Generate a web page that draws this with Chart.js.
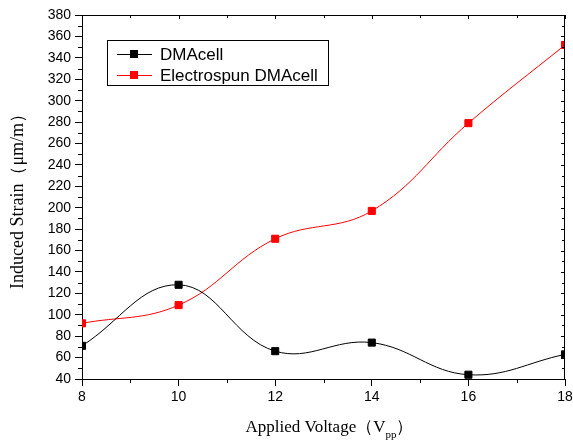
<!DOCTYPE html>
<html>
<head>
<meta charset="utf-8">
<script src="https://cdn.jsdelivr.net/npm/chart.js@4.4.0/dist/chart.umd.min.js"></script>
<style>
  html, body { margin: 0; padding: 0; background: #fff; }
  #wrap { width: 573px; height: 443px; }
</style>
</head>
<body>
<div id="wrap"><canvas id="strainchart" width="573" height="443"></canvas></div>
<script>
// data
const voltages = [8, 10, 12, 14, 16, 18];
const dmacell = [71, 128, 66, 74, 44, 63];
const electrospun = [92, 109, 171, 197, 279, 352];
const seriesNames = ["DMAcell", "Electrospun DMAcell"];

const sansFont = "'Liberation Sans', Arial, sans-serif";
const serifFont = "'Liberation Serif', 'Times New Roman', serif";

function toPoints(xs, ys) {
  return xs.map((x, i) => ({ x: x, y: ys[i] }));
}

// frame, minor ticks, legend box and the x title with subscript
const extras = {
  id: "extras",
  afterDraw(chart) {
    const c = chart.ctx;
    const a = chart.chartArea;
    const xs = chart.scales.x;
    const ys = chart.scales.y;
    c.save();
    c.strokeStyle = "#000";
    c.lineWidth = 1;

    // top + right border
    c.beginPath();
    c.moveTo(a.left, a.top + 0.5);
    c.lineTo(a.right, a.top + 0.5);
    c.moveTo(a.right - 0.5, a.top);
    c.lineTo(a.right - 0.5, a.bottom);
    c.stroke();

    c.beginPath();
    // x minor ticks (bottom outward) and top inward ticks
    for (let v = xs.min; v <= xs.max; v += 1) {
      const px = Math.round(xs.getPixelForValue(v)) + 0.5;
      if (v % 2 !== 0) {
        c.moveTo(px, a.bottom);
        c.lineTo(px, a.bottom + 4);
      }
      c.moveTo(px, a.top);
      c.lineTo(px, a.top + (v % 2 === 0 ? 4 : 3));
    }
    // y minor ticks (left outward) and right inward ticks
    for (let v = ys.min; v <= ys.max; v += 10) {
      const py = Math.round(ys.getPixelForValue(v)) + 0.5;
      if (v % 20 !== 0) {
        c.moveTo(a.left, py);
        c.lineTo(a.left - 4, py);
      }
      c.moveTo(a.right, py);
      c.lineTo(a.right - (v % 20 === 0 ? 4 : 3), py);
    }
    c.stroke();

    // legend
    c.lineWidth = 1;
    c.strokeRect(107.5, 40.5, 221, 45);
    chart.data.datasets.forEach((ds, i) => {
      const y = 54 + i * 21;
      c.strokeStyle = ds.borderColor;
      c.beginPath();
      c.moveTo(117, y + 0.5);
      c.lineTo(152, y + 0.5);
      c.stroke();
      c.fillStyle = ds.backgroundColor;
      c.fillRect(130, y - 4, 8, 8);
      c.fillStyle = "#000";
      c.font = "17px " + sansFont;
      c.textBaseline = "middle";
      c.textAlign = "left";
      c.fillText(ds.label, 160, y + 1);
    });

    // x axis title: Applied Voltage (V_pp)
    const mainTxt = "Applied Voltage\uFF08V";
    const subTxt = "pp";
    const endTxt = "\uFF09";
    c.fillStyle = "#000";
    c.textBaseline = "alphabetic";
    c.font = "17px " + serifFont;
    const w1 = c.measureText(mainTxt).width;
    const w3 = c.measureText(endTxt).width;
    c.font = "11px " + serifFont;
    const w2 = c.measureText(subTxt).width;
    let x0 = (a.left + a.right) / 2 - (w1 + w2 + w3) / 2 + 6;
    const base = 432;
    c.font = "17px " + serifFont;
    c.fillText(mainTxt, x0, base);
    c.font = "11px " + serifFont;
    c.fillText(subTxt, x0 + w1, base + 6);
    c.font = "17px " + serifFont;
    c.fillText(endTxt, x0 + w1 + w2, base);
    c.restore();
  }
};

new Chart(document.getElementById("strainchart").getContext("2d"), {
  type: "line",
  data: {
    datasets: [
      {
        label: seriesNames[0],
        data: toPoints(voltages, dmacell),
        borderColor: "#000000",
        backgroundColor: "#000000",
        borderWidth: 1,
        pointStyle: "rect",
        pointRadius: 5,
        pointBorderWidth: 1,
        tension: 0.4,
        clip: 0,
      },
      {
        label: seriesNames[1],
        data: toPoints(voltages, electrospun),
        borderColor: "#ff0000",
        backgroundColor: "#ff0000",
        borderWidth: 1,
        pointStyle: "rect",
        pointRadius: 5,
        pointBorderWidth: 1,
        tension: 0.4,
        clip: 0,
      },
    ],
  },
  options: {
    responsive: false,
    animation: false,
    layout: { padding: { left: 0, right: 8, top: 15, bottom: 0 } },
    plugins: { legend: { display: false }, tooltip: { enabled: false } },
    scales: {
      x: {
        type: "linear",
        min: 8,
        max: 18,
        afterFit(s) { s.height = 64; s.paddingRight = 0; s.paddingLeft = 0; },
        ticks: { stepSize: 2, color: "#000", padding: 3, font: { family: sansFont, size: 14 } },
        grid: { drawOnChartArea: false, drawTicks: true, tickLength: 7, color: "#000" },
        border: { color: "#000", width: 1 },
      },
      y: {
        min: 40,
        max: 380,
        afterFit(s) { s.width = 82; s.paddingTop = 0; s.paddingBottom = 0; },
        ticks: { stepSize: 20, color: "#000", padding: 4, font: { family: sansFont, size: 14 } },
        grid: { drawOnChartArea: false, drawTicks: true, tickLength: 7, color: "#000" },
        border: { color: "#000", width: 1 },
        title: {
          display: true,
          text: "Induced Strain\uFF08\u03BCm/m\uFF09",
          color: "#000",
          padding: { top: 7, bottom: 0 },
          font: { family: serifFont, size: 18, weight: "normal" },
        },
      },
    },
  },
  plugins: [extras],
});
</script>
</body>
</html>
